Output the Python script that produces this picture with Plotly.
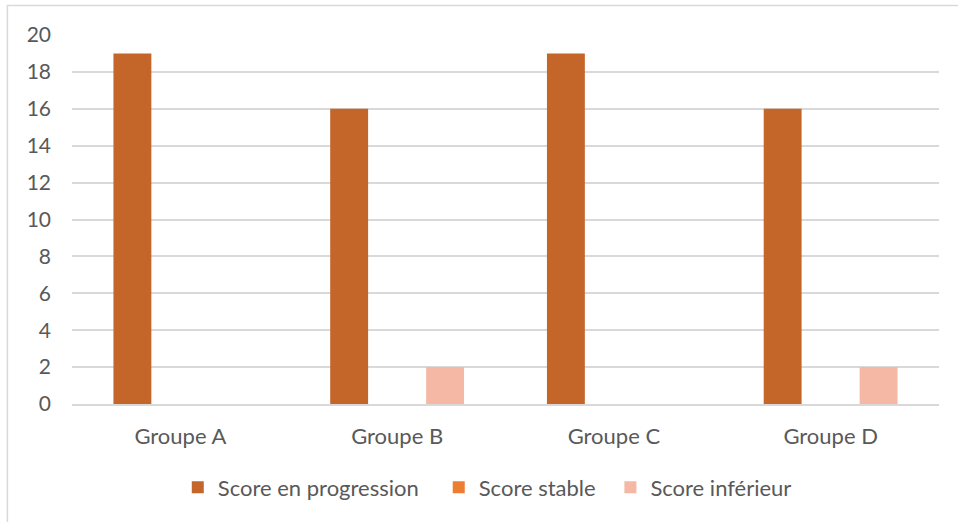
import plotly.graph_objects as go

# Categories and series values
groupes = ["Groupe A", "Groupe B", "Groupe C", "Groupe D"]
score_progression = [19, 16, 19, 16]
score_stable = [0, 0, 0, 0]
score_inferieur = [0, 2, 0, 2]
y_ticks = [0, 2, 4, 6, 8, 10, 12, 14, 16, 18, 20]

series = [
    ("Score en progression", score_progression, "#C4652A"),
    ("Score stable", score_stable, "#ED7D31"),
    ("Score inférieur", score_inferieur, "#F4B8A5"),
]

FONT = "Lato, Calibri, 'Liberation Sans', sans-serif"
TEXT = "#595959"
GRID = "#D9D9D9"

# each series gets its own legend box so the entries can be spaced freely
legend_refs = ["legend", "legend2", "legend3"]
legend_x = [0.122, 0.423, 0.621]

fig = go.Figure()
for (name, vals, color), ref in zip(series, legend_refs):
    fig.add_trace(go.Bar(
        x=groupes, y=vals, name=name, legend=ref,
        marker=dict(color=color, line=dict(width=0)),
    ))

legend_style = dict(
    orientation="h", xanchor="left", y=-0.226, yanchor="middle",
    font=dict(family=FONT, size=22, color=TEXT), itemwidth=30,
    bgcolor="rgba(0,0,0,0)",
)

fig.update_layout(
    width=958, height=522,
    margin=dict(l=72, r=19, t=35, b=118),
    paper_bgcolor="white", plot_bgcolor="white",
    barmode="group", bargap=0.336, bargroupgap=0.21,
    font=dict(family=FONT, size=22, color=TEXT),
    showlegend=True,
    legend=dict(x=legend_x[0], **legend_style),
    legend2=dict(x=legend_x[1], **legend_style),
    legend3=dict(x=legend_x[2], **legend_style),
    xaxis=dict(
        showgrid=False, showline=True, linecolor=GRID, linewidth=1.5,
        ticks="", ticklabelstandoff=12,
        tickfont=dict(family=FONT, size=22, color=TEXT),
    ),
    yaxis=dict(
        range=[0, 20], tickvals=y_ticks, showgrid=True, gridcolor=GRID,
        gridwidth=1.5, zeroline=False, showline=False, ticks="",
        ticklabelstandoff=20,
        tickfont=dict(family=FONT, size=21, color=TEXT),
    ),
    shapes=[
        # chart frame (top and left edges fall inside the page)
        dict(type="rect", xref="paper", yref="paper",
             x0=-0.0745, x1=1.03, y0=-0.34, y1=1.08,
             line=dict(color=GRID, width=1.5), fillcolor="rgba(0,0,0,0)",
             layer="below"),
    ],
)

fig.write_html("out.html")
